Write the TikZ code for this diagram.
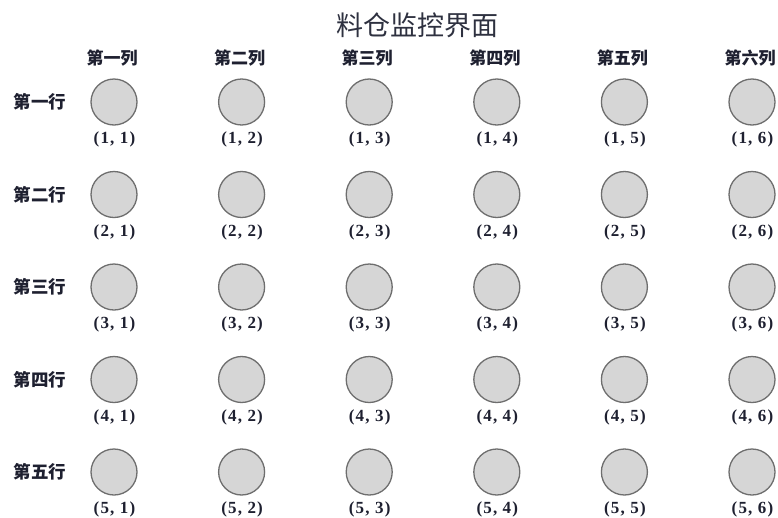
\documentclass[tikz,border=0pt]{standalone}
\usepackage{fontspec}
\newfontfamily\cjk{Noto Sans CJK SC}
\newfontfamily\lblfont[LetterSpace=7]{Liberation Serif}
\definecolor{txt}{HTML}{1E2030}
\definecolor{titlecol}{HTML}{2E3140}
\definecolor{binfill}{HTML}{D6D6D6}
\definecolor{binedge}{HTML}{6E6E6E}
\begin{document}
\begin{tikzpicture}[x=1pt,y=-1pt,
  titlestyle/.style={font=\cjk\fontsize{27}{27}\selectfont, text=titlecol, inner sep=0},
  headstyle/.style={font=\cjk\bfseries\fontsize{17}{17}\selectfont, text=txt, inner sep=0},
  rowstyle/.style={font=\cjk\bfseries\fontsize{17.5}{17.5}\selectfont, text=txt, inner sep=0},
  binstyle/.style={circle, minimum size=46pt, inner sep=0, draw=binedge, fill=binfill, line width=1.3pt},
  lblstyle/.style={font=\lblfont\bfseries\fontsize{17}{17}\selectfont, text=txt, inner sep=0}]
\useasboundingbox (0,0) rectangle (778,517);
\fill[white] (0,0) rectangle (778,517);
\node[titlestyle] (title) at (417,25) {料仓监控界面};
\foreach \n [count=\j] in {一,二,三,四,五,六} {
  \node[headstyle] (h\j) at ({112+127.6*(\j-1)},58) {第{\n}列};
}
\foreach \m [count=\i] in {一,二,三,四,五} {
  \node[rowstyle] (r\i) at (40,{102+92.5*(\i-1)}) {第{\m}行};
  \foreach \j in {1,...,6} {
    \node[binstyle] (c\i\j) at ({114+127.6*(\j-1)},{102+92.5*(\i-1)}) {};
    \node[lblstyle] (l\i\j) at ({114.5+127.6*(\j-1)},{139.5+92.5*(\i-1)}) {(\i, \j)};
  }
}
\end{tikzpicture}
\end{document}
